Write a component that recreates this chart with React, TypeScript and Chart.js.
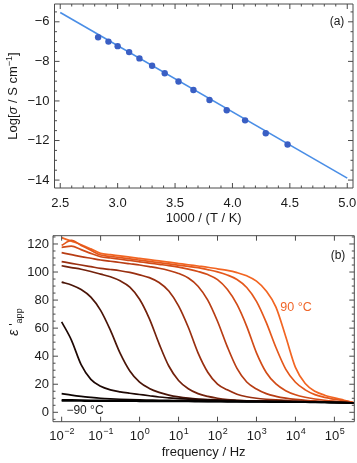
import React, { useEffect, useRef } from 'react';
import { Chart, registerables } from 'chart.js';
Chart.register(...registerables);

const FONT = "'Liberation Sans', Arial, Helvetica, sans-serif";
const FRAME = '#4a4a4a';
const TEXT = '#1a1a1a';

// ---------- Panel (a): Arrhenius plot ----------
const invT = [2.83, 2.92, 3.0, 3.1, 3.19, 3.3, 3.41, 3.53, 3.66, 3.8, 3.95, 4.11, 4.29, 4.48];
const logSigma = [-6.78, -7.0, -7.23, -7.53, -7.85, -8.22, -8.6, -9.02, -9.45, -9.95, -10.47, -10.98, -11.63, -12.2];
const fitX = [2.5, 5.0];
const fitY = [-5.53, -13.9];
const aXTicks = [2.5, 3.0, 3.5, 4.0, 4.5, 5.0];
const aXTickLabels = ['2.5', '3.0', '3.5', '4.0', '4.5', '5.0'];
const aYTicks = [-6, -8, -10, -12, -14];
const aYTickLabels = ['\u22126', '\u22128', '\u221210', '\u221212', '\u221214'];

// ---------- Panel (b): permittivity spectra ----------
const freq = [0.01, 0.0178, 0.0316, 0.0562, 0.1, 0.178, 0.316, 0.562, 1, 1.78, 3.16, 5.62, 10, 17.8, 31.6, 56.2,
  100, 178, 316, 562, 1000, 1780, 3160, 5620, 10000, 17800, 31600, 56200, 100000, 178000, 316000];
// coldest (-90 °C, black) ... hottest (90 °C, orange)
const curve1 = [8.1, 8.1, 8.05, 8.0, 8.0, 7.95, 7.9, 7.9, 7.85, 7.8, 7.8, 7.75, 7.7, 7.7, 7.65, 7.6, 7.55, 7.5, 7.5, 7.45, 7.4, 7.35, 7.3, 7.25, 7.2, 7.15, 7.05, 7.0, 6.9, 6.8, 6.7];
const curve2 = [8.9, 8.8, 8.7, 8.6, 8.5, 8.4, 8.35, 8.3, 8.2, 8.15, 8.1, 8.05, 8.0, 7.95, 7.9, 7.85, 7.8, 7.75, 7.7, 7.6, 7.55, 7.5, 7.4, 7.35, 7.3, 7.2, 7.15, 7.05, 6.95, 6.85, 6.7];
const curve3 = [13.3, 12.2, 11.3, 10.6, 10.0, 9.6, 9.3, 9.05, 8.85, 8.7, 8.55, 8.45, 8.35, 8.25, 8.2, 8.1, 8.05, 8.0, 7.9, 7.85, 7.8, 7.7, 7.6, 7.55, 7.45, 7.35, 7.25, 7.15, 7.0, 6.9, 6.7];
const curve4 = [64.5, 51.5, 34, 23.5, 18.5, 16, 14.6, 13.6, 12.7, 11.8, 10.9, 10.3, 9.8, 9.4, 9.1, 8.8, 8.6, 8.4, 8.25, 8.1, 8.0, 7.9, 7.8, 7.7, 7.6, 7.5, 7.4, 7.25, 7.1, 6.95, 6.7];
const curve5 = [92.8, 90.8, 87.5, 82.1, 72.7, 58.6, 42.2, 29.5, 21.5, 17, 14.2, 12.3, 11, 10.1, 9.5, 9.1, 8.8, 8.55, 8.35, 8.2, 8.05, 7.95, 7.85, 7.75, 7.65, 7.55, 7.45, 7.3, 7.15, 6.95, 6.7];
const curve6 = [104.5, 103.2, 102, 100.4, 98.5, 96.6, 93.7, 89.2, 80.6, 66.8, 49.0, 33, 22.7, 16.8, 13.3, 11.3, 10.0, 9.1, 8.6, 8.2, 8.05, 7.9, 7.8, 7.7, 7.6, 7.5, 7.4, 7.3, 7.15, 6.95, 6.7];
const curve7 = [107.4, 106.2, 105, 103.8, 102.6, 101.8, 100.9, 99.7, 98, 96, 92.5, 86.5, 75.9, 60.6, 42.4, 28.6, 20.1, 16, 12.9, 11.1, 10.0, 9.3, 8.8, 8.45, 8.0, 7.8, 7.6, 7.45, 7.25, 7.0, 6.7];
const curve8 = [113.8, 112.4, 111, 109.8, 108.6, 107.7, 106.8, 105.9, 105, 103.9, 102.7, 101.1, 99, 95.7, 89.9, 80, 64.9, 46.8, 31.3, 21.6, 16.6, 13.3, 11.4, 10.1, 9.2, 8.6, 8.1, 7.75, 7.4, 7.05, 6.7];
const curve9 = [117.5, 118.5, 116, 113.3, 110.9, 110, 109.1, 108.2, 107.3, 106.4, 105.5, 104.6, 103.5, 102.1, 100.4, 98.2, 94.6, 87.7, 76.9, 61.3, 42.4, 28.4, 20.2, 15.4, 12.5, 10.7, 9.5, 8.6, 7.9, 7.3, 6.7];
const curve10 = [119, 122.5, 119, 115.5, 112.1, 111.2, 110.3, 109.4, 108.5, 107.6, 106.7, 105.8, 104.9, 104, 103.1, 101.7, 100.1, 97.9, 94.7, 89, 79.1, 64.1, 46.2, 30.8, 21.4, 16.0, 12.6, 10.6, 9.3, 8.1, 6.75];
const curve11 = [124.5, 122, 119.5, 116.5, 113.3, 112.4, 111.5, 110.6, 109.7, 108.8, 107.9, 107, 106.1, 105.2, 104.3, 103.4, 102.3, 101.2, 99.6, 97.3, 93.5, 86.5, 75, 54, 32, 20.5, 15, 12.2, 10.3, 8.6, 6.8];
const curves = [curve1, curve2, curve3, curve4, curve5, curve6, curve7, curve8, curve9, curve10, curve11];
const curveColors = ['#000000', '#050201', '#0d0402', '#1e0804', '#4a1508', '#73220c', '#992f10', '#b83d14', '#d24c18', '#e4581c', '#f26522'];
const bXTickExp = [-2, -1, 0, 1, 2, 3, 4, 5];
const bYTicks = [0, 20, 40, 60, 80, 100, 120];

type Part = { t: string; size?: number; italic?: boolean; dy?: number };

function fontOf(p: Part) {
  return `${p.italic ? 'italic ' : ''}${p.size ?? 13}px ${FONT}`;
}

function drawRich(ctx: CanvasRenderingContext2D, parts: Part[], cx: number, cy: number, rot: boolean, color = TEXT) {
  ctx.save();
  ctx.translate(cx, cy);
  if (rot) ctx.rotate(-Math.PI / 2);
  ctx.fillStyle = color;
  ctx.textAlign = 'left';
  ctx.textBaseline = 'alphabetic';
  let w = 0;
  for (const p of parts) { ctx.font = fontOf(p); w += ctx.measureText(p.t).width; }
  let x = -w / 2;
  for (const p of parts) {
    ctx.font = fontOf(p);
    ctx.fillText(p.t, x, 4.5 + (p.dy ?? 0));
    x += ctx.measureText(p.t).width;
  }
  ctx.restore();
}

function frameAndTicks(chart: any, xMajor: number[], xMinor: number[], yMajor: number[], yMinor: number[]) {
  const { ctx, chartArea: ca } = chart;
  const xs = chart.scales.x, ys = chart.scales.y;
  ctx.save();
  ctx.strokeStyle = FRAME;
  ctx.lineWidth = 1;
  ctx.beginPath();
  ctx.rect(ca.left, ca.top, ca.right - ca.left, ca.bottom - ca.top);
  ctx.stroke();
  ctx.beginPath();
  const xt = (v: number, len: number) => {
    const px = xs.getPixelForValue(v);
    ctx.moveTo(px, ca.bottom); ctx.lineTo(px, ca.bottom - len);
    ctx.moveTo(px, ca.top); ctx.lineTo(px, ca.top + len);
  };
  const yt = (v: number, len: number) => {
    const py = ys.getPixelForValue(v);
    ctx.moveTo(ca.left, py); ctx.lineTo(ca.left + len, py);
    ctx.moveTo(ca.right, py); ctx.lineTo(ca.right - len, py);
  };
  xMajor.forEach((v) => xt(v, 5));
  xMinor.forEach((v) => xt(v, 2.5));
  yMajor.forEach((v) => yt(v, 5));
  yMinor.forEach((v) => yt(v, 2.5));
  ctx.stroke();
  ctx.restore();
}

const plugA = {
  id: 'frameA',
  afterDraw(chart: any) {
    const { ctx, chartArea: ca } = chart;
    const xs = chart.scales.x, ys = chart.scales.y;
    const xMinor: number[] = [];
    for (let i = 25; i <= 50; i++) if (i % 5 !== 0) xMinor.push(i / 10);
    const yMinor: number[] = [];
    for (let i = -28; i <= -11; i++) if (i % 4 !== 0) yMinor.push(i / 2);
    frameAndTicks(chart, aXTicks, xMinor, aYTicks, yMinor);
    ctx.save();
    ctx.fillStyle = TEXT;
    ctx.font = `13px ${FONT}`;
    ctx.textAlign = 'center';
    ctx.textBaseline = 'alphabetic';
    aXTicks.forEach((v, i) => ctx.fillText(aXTickLabels[i], xs.getPixelForValue(v), ca.bottom + 18.5));
    ctx.textAlign = 'right';
    ctx.textBaseline = 'middle';
    aYTicks.forEach((v, i) => ctx.fillText(aYTickLabels[i], ca.left - 5, ys.getPixelForValue(v)));
    ctx.textAlign = 'center';
    ctx.textBaseline = 'alphabetic';
    ctx.fillText('1000 / (T / K)', (ca.left + ca.right) / 2, 222);
    ctx.font = `12px ${FONT}`;
    ctx.fillText('(a)', 337, 25);
    ctx.restore();
    drawRich(ctx, [
      { t: 'Log[' }, { t: '\u03c3', italic: true }, { t: ' / S cm' }, { t: '\u22121', size: 9, dy: -5 }, { t: ']' },
    ], 12, (ca.top + ca.bottom) / 2, true);
  },
};

const plugB = {
  id: 'frameB',
  afterDraw(chart: any) {
    const { ctx, chartArea: ca } = chart;
    const xs = chart.scales.x, ys = chart.scales.y;
    const yMinor: number[] = [];
    for (let v = -5; v <= 125; v += 5) if (v % 20 !== 0) yMinor.push(v);
    const xMajor = bXTickExp.map((e) => Math.pow(10, e));
    frameAndTicks(chart, xMajor, [], bYTicks, yMinor);
    ctx.save();
    ctx.fillStyle = TEXT;
    ctx.textBaseline = 'middle';
    ctx.textAlign = 'right';
    ctx.font = `13px ${FONT}`;
    bYTicks.forEach((v) => ctx.fillText(String(v), ca.left - 4, ys.getPixelForValue(v)));
    ctx.textBaseline = 'alphabetic';
    ctx.textAlign = 'left';
    bXTickExp.forEach((e) => {
      const cx = xs.getPixelForValue(Math.pow(10, e));
      const base = '10';
      const ex = e < 0 ? '\u2212' + String(-e) : String(e);
      ctx.font = `13px ${FONT}`;
      const wb = ctx.measureText(base).width;
      ctx.font = `9px ${FONT}`;
      const we = ctx.measureText(ex).width;
      const x0 = cx - (wb + we) / 2;
      ctx.font = `13px ${FONT}`;
      ctx.fillText(base, x0, 210);
      ctx.font = `9px ${FONT}`;
      ctx.fillText(ex, x0 + wb + 0.5, 203.5);
    });
    ctx.textAlign = 'center';
    ctx.font = `13px ${FONT}`;
    ctx.fillText('frequency / Hz', (ca.left + ca.right) / 2, 226);
    ctx.font = `12px ${FONT}`;
    ctx.fillText('(b)', 338, 29);
    ctx.font = `12.5px ${FONT}`;
    ctx.fillStyle = '#f0662a';
    ctx.fillText('90 \u00b0C', 296, 80.5);
    ctx.fillStyle = TEXT;
    ctx.font = `12px ${FONT}`;
    ctx.fillText('\u221290 \u00b0C', 85, 184);
    ctx.restore();
    drawRich(ctx, [
      { t: '\u03b5', italic: true, size: 14 }, { t: " '", size: 13 }, { t: 'app', size: 9, dy: 4 },
    ], 13, 92, true);
  },
};

export default function App() {
  const topRef = useRef<HTMLCanvasElement>(null);
  const botRef = useRef<HTMLCanvasElement>(null);

  useEffect(() => {
    const a = new Chart(topRef.current as HTMLCanvasElement, {
      type: 'scatter',
      data: {
        datasets: [
          {
            data: invT.map((x, i) => ({ x, y: logSigma[i] })),
            showLine: false,
            pointRadius: 3.2,
            pointBackgroundColor: '#3a5fc4',
            pointBorderWidth: 0,
            order: 1,
          } as any,
          {
            data: fitX.map((x, i) => ({ x, y: fitY[i] })),
            showLine: true,
            borderColor: '#4a8ee6',
            borderWidth: 1.6,
            pointRadius: 0,
            order: 2,
          } as any,
        ],
      },
      options: {
        responsive: false,
        animation: false,
        devicePixelRatio: 1,
        layout: { padding: { left: 54.5, top: 2, right: 4, bottom: 42 } },
        scales: {
          x: { type: 'linear', min: 2.45, max: 5.05, display: false },
          y: { type: 'linear', min: -14.4, max: -5.1, display: false },
        },
        plugins: { legend: { display: false }, tooltip: { enabled: false } },
      },
      plugins: [plugA],
    });

    const b = new Chart(botRef.current as HTMLCanvasElement, {
      type: 'scatter',
      data: {
        datasets: curves.map((ys, k) => ({
          data: freq.map((f, i) => ({ x: f, y: ys[i] })),
          showLine: true,
          borderColor: curveColors[k],
          borderWidth: 1.7,
          pointRadius: 0,
          cubicInterpolationMode: 'monotone',
        })) as any,
      },
      options: {
        responsive: false,
        animation: false,
        devicePixelRatio: 1,
        layout: { padding: { left: 53, top: 5.7, right: 2.7, bottom: 41.3 } },
        scales: {
          x: { type: 'logarithmic', min: 0.006, max: 324000, display: false },
          y: { type: 'linear', min: -6.7, max: 125.9, display: false },
        },
        plugins: { legend: { display: false }, tooltip: { enabled: false } },
      },
      plugins: [plugB],
    });

    return () => {
      a.destroy();
      b.destroy();
    };
  }, []);

  return (
    <div style={{ position: 'fixed', left: 0, top: 0, width: 357, height: 463, background: '#fff' }}>
      <canvas ref={topRef} width={357} height={230} style={{ position: 'absolute', left: 0, top: 0, width: 357, height: 230 }} />
      <canvas ref={botRef} width={357} height={233} style={{ position: 'absolute', left: 0, top: 230, width: 357, height: 233 }} />
    </div>
  );
}
